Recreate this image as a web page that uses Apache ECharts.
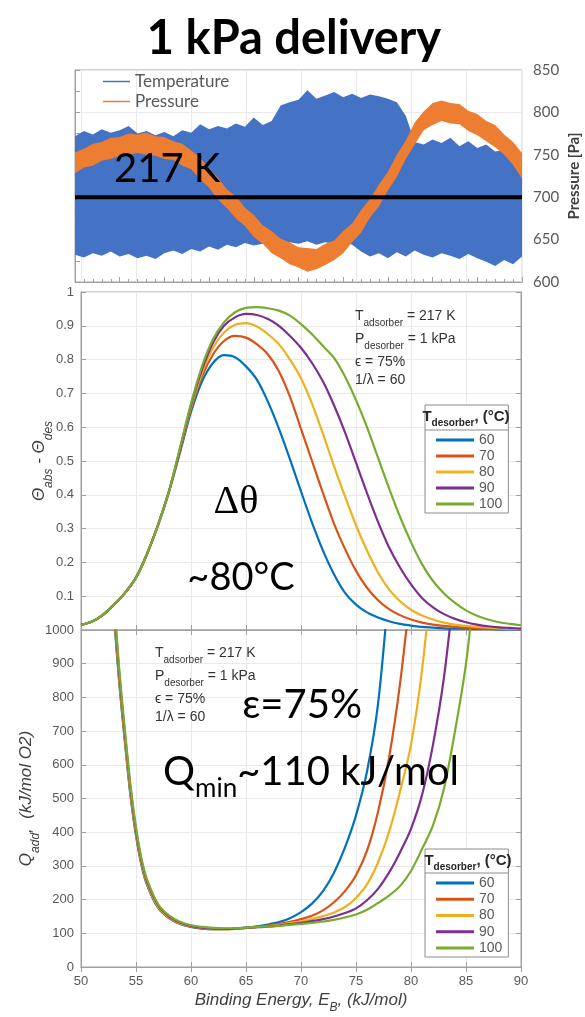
<!DOCTYPE html>
<html>
<head>
<meta charset="utf-8">
<script src="https://cdn.jsdelivr.net/npm/echarts/dist/echarts.min.js"></script>
<style>
  html, body { margin: 0; padding: 0; background: #fff; }
  #chart { width: 585px; height: 1017px; }
</style>
</head>
<body>
<div id="chart"></div>
<script>
// ---------- data ----------
const figureTitle = '1 kPa delivery';
const adsorberLabel = '217 K';
const setPointPa = 700;

// Top panel: time base (arbitrary units) with envelopes of the noisy traces, in Pa
const timeGrid = [0,2,4,6,8,10,12,14,16,18,20,22,24,26,28,30,32,34,36,38,40,42,44,46,48,50,
  52,54,56,58,60,62,64,66,68,70,72,74,76,78,80,82,84,86,88,90,92,94,96,98,100];
const temperatureUpper = [772,778,774,780,776,779,784,775,778,773,777,772,779,776,786,780,784,781,787,783,
  794,785,790,808,812,815,826,816,820,824,818,822,817,821,819,816,812,796,765,762,768,764,770,760,766,758,762,754,756,748,752];
const temperatureLower = [632,629,634,631,636,630,633,628,631,627,634,637,633,639,636,642,638,644,641,646,
  643,645,648,644,647,645,648,644,647,645,648,644,636,630,634,628,635,630,637,632,629,634,631,627,633,628,624,619,626,621,630];
const pressureUpper = [753,757,763,765,770,771,775,774,776,772,771,766,763,755,747,733,723,709,701,688,
  679,667,660,651,647,641,640,639,645,649,660,669,685,698,715,730,750,767,788,801,811,814,811,810,802,798,790,785,774,765,752];
const pressureLower = [728,735,737,743,745,749,750,752,750,749,745,744,737,733,721,711,697,687,675,666,
  653,645,634,628,621,617,612,615,620,626,634,647,658,676,689,708,724,745,762,779,785,790,787,786,778,773,766,759,750,738,722];

// Middle panel: delta theta vs binding energy, one series per desorber temperature
const desorberTemps = ['60', '70', '80', '90', '100'];
const energyGrid = [50,51,52,53,54,55,56,57,58,59,60,61,62,63,64,65,66,67,68,69,70,
  71,72,73,74,75,76,77,78,79,80,81,82,83,84,85,86,87,88,89,90];
const dTheta60 = [.015,.025,.045,.075,.11,.155,.225,.31,.41,.525,.645,.735,.79,.813,.807,.78,.74,.675,.595,.505,.41,
  .318,.235,.165,.11,.075,.052,.037,.026,.018,.013,.009,.007,.005,.004,.004,.003,.003,.002,.002,.002];
const dTheta70 = [.015,.025,.045,.075,.11,.155,.225,.31,.41,.53,.655,.75,.815,.855,.87,.865,.845,.815,.765,.69,.595,
  .5,.405,.315,.24,.175,.125,.088,.062,.044,.031,.022,.016,.012,.009,.007,.005,.004,.003,.003,.002];
const dTheta80 = [.015,.025,.045,.075,.11,.155,.225,.31,.41,.535,.66,.76,.835,.88,.903,.908,.898,.875,.845,.80,.745,
  .67,.58,.485,.395,.31,.235,.17,.12,.085,.06,.043,.031,.022,.016,.012,.009,.007,.005,.004,.003];
const dTheta90 = [.015,.025,.045,.075,.11,.155,.225,.31,.41,.535,.665,.77,.85,.90,.925,.935,.932,.92,.90,.87,.835,
  .79,.735,.665,.585,.495,.405,.32,.245,.185,.135,.095,.067,.047,.033,.023,.016,.011,.008,.006,.004];
const dTheta100 = [.015,.025,.045,.075,.11,.155,.225,.31,.41,.54,.67,.78,.86,.91,.94,.953,.955,.952,.945,.93,.905,
  .875,.84,.805,.75,.68,.60,.51,.42,.335,.26,.195,.145,.108,.08,.058,.042,.031,.023,.018,.014];

// Bottom panel: heat added per mol O2 vs binding energy
const qEnergy = [53,53.5,54,54.5,55,55.5,56,57,58,59,60,61,62,63,64,65,66,67,68,69,70,71,72,73,74,75,76,77,78,79,80,81,82,83,84,85,86];
const qAdd60 = [1040,835,665,508,390,302,244,176,145,128,119,114,112,112,114,117,121,126,133,145,163,188,225,280,355,450,580,780,1130,
  null,null,null,null,null,null,null,null];
const qAdd70 = [1050,842,672,514,395,306,247,178,146,129,120,115,112,112,113,116,119,123,128,134,142,152,168,192,225,272,345,460,620,840,1130,
  null,null,null,null,null,null];
const qAdd80 = [1060,850,680,520,400,310,250,180,148,130,121,116,113,112,113,116,118,121,125,130,135,142,151,162,178,205,245,310,400,520,660,880,1200,
  null,null,null,null];
const qAdd90 = [1075,862,690,530,407,316,255,184,150,132,122,117,114,113,114,116,118,120,123,127,131,136,142,150,160,174,198,232,280,340,410,510,660,860,1150,
  null,null];
const qAdd100 = [1090,875,700,540,415,322,260,187,153,134,124,119,116,115,115,117,119,120,122,125,128,131,135,140,147,156,170,190,212,240,285,350,420,530,700,900,1200];

// ---------- styling ----------
const curveColors = ['#0072BD', '#D95319', '#EDB120', '#7E2F8E', '#77AC30'];
const tempColor = '#4472C4';
const pressColor = '#ED7D31';
const frameColor = '#a0a0a0';
const gridColor = '#e9e9e9';
const labelColor = '#595959';
const sans = '"Liberation Sans", "DejaVu Sans", sans-serif';
const calibriLike = 'Lato, "Noto Sans", "DejaVu Sans", sans-serif';

const chart = echarts.init(document.getElementById('chart'));

function band(upper, lower, color) {
  return function (params, api) {
    const pts = [];
    for (let i = 0; i < timeGrid.length; i++) pts.push(api.coord([timeGrid[i], upper[i]]));
    for (let i = timeGrid.length - 1; i >= 0; i--) pts.push(api.coord([timeGrid[i], lower[i]]));
    return { type: 'polygon', shape: { points: pts }, style: { fill: color } };
  };
}

function pairs(xs, ys) { return xs.map((x, i) => [x, ys[i]]); }

const thetaSets = [dTheta60, dTheta70, dTheta80, dTheta90, dTheta100];
const qSets = [qAdd60, qAdd70, qAdd80, qAdd90, qAdd100];

const inTick = { show: true, inside: true, length: 5, lineStyle: { color: frameColor } };
const frameLine = { show: true, lineStyle: { color: frameColor, width: 1 } };
const tickLabel = { color: labelColor, fontFamily: sans, fontSize: 13 };

function energyAxis(gridIndex, position, withLabels) {
  return {
    gridIndex, type: 'value', min: 50, max: 90, interval: 5, position,
    axisLine: frameLine, axisTick: inTick,
    axisLabel: withLabels ? Object.assign({ margin: 8 }, tickLabel) : { show: false },
    splitLine: { show: position === 'bottom', lineStyle: { color: gridColor } }
  };
}

const subRich = (size, sub, color, extra) => ({
  m: Object.assign({ fontSize: size, lineHeight: size + 4, verticalAlign: 'top', color: color, fontFamily: sans }, extra || {}),
  s: Object.assign({ fontSize: Math.round(size * 0.7), lineHeight: Math.round(size * 0.7),
    padding: [sub, 0, 0, 0], verticalAlign: 'top', color: color, fontFamily: sans }, extra || {})
});

const lineSeries = (data, i, xi, yi) => ({
  name: desorberTemps[i], type: 'line', xAxisIndex: xi, yAxisIndex: yi,
  data, smooth: 0.3, showSymbol: false, symbol: 'none',
  lineStyle: { color: curveColors[i], width: 2.2 }, itemStyle: { color: curveColors[i] },
  clip: true, silent: true, z: 3 + i
});

function legendFor(top, padTop, gap) {
  return {
    data: desorberTemps.map((n, i) => ({ name: n, itemStyle: { color: curveColors[i] } })),
    orient: 'vertical', left: 425, top: top, padding: [padTop, 6, 2, 11],
    itemGap: gap, itemWidth: 38, itemHeight: 3, icon: 'rect', selectedMode: false,
    textStyle: { fontSize: 14, lineHeight: 14, color: labelColor, fontFamily: sans },
    borderColor: '#8c8c8c', borderWidth: 1, backgroundColor: '#fff', z: 10
  };
}

// Parameter block: four lines of annotation text
function paramBlock(x, y) {
  const rich = {
    m: { fontSize: 14, lineHeight: 17, verticalAlign: 'top', fill: '#333', fontFamily: sans },
    s: { fontSize: 10, lineHeight: 10, padding: [9, 0, 0, 0], verticalAlign: 'top', fill: '#333', fontFamily: sans }
  };
  const lines = [
    ['{m|T}{s|adsorber}{m| = 217 K}', 0],
    ['{m|P}{s|desorber}{m| = 1 kPa}', 23],
    ['{m|ϵ = 75%}', 46],
    ['{m|1/λ = 60}', 64]
  ];
  return lines.map(([t, dy]) => ({
    type: 'text', x: x, y: y + dy, z: 50,
    style: { text: t, rich: rich, fontSize: 14, fontFamily: sans, fill: '#333', textVerticalAlign: 'top' }
  }));
}

function legendHeader(cx, cy, lineY) {
  const rich = {
    m: { fontSize: 15, lineHeight: 17, verticalAlign: 'top', fill: '#262626', fontWeight: 'bold', fontFamily: sans },
    s: { fontSize: 10, lineHeight: 10, padding: [9, 0, 0, 0], verticalAlign: 'top', fill: '#262626', fontWeight: 'bold', fontFamily: sans }
  };
  return [
    { type: 'text', x: cx, y: cy, z: 60,
      style: { text: '{m|T}{s|desorber}{m|, (°C)}', rich: rich, fontSize: 15, fontWeight: 'bold',
        fontFamily: sans, textAlign: 'center', textVerticalAlign: 'middle' } },
    { type: 'line', z: 60, shape: { x1: 425, y1: lineY, x2: 508, y2: lineY },
      style: { stroke: '#8c8c8c', lineWidth: 1 } }
  ];
}

const gridBase = { show: true, borderColor: frameColor, borderWidth: 1, backgroundColor: '#fff', outerBoundsMode: 'none' };

const option = {
  animation: false,
  backgroundColor: '#fff',
  grid: [
    Object.assign({ left: 75, top: 70, width: 447, height: 212 }, gridBase),
    Object.assign({ left: 81, top: 292, width: 440, height: 338 }, gridBase),
    Object.assign({ left: 81, top: 630, width: 440, height: 337 }, gridBase)
  ],
  xAxis: [
    { gridIndex: 0, type: 'value', min: 0, max: 100, interval: 10,
      axisLine: frameLine, axisTick: inTick,
      minorTick: { show: true, splitNumber: 5, length: 3, lineStyle: { color: frameColor } },
      axisLabel: { show: false }, splitLine: { show: false } },
    // column guides of the top panel, aligned with the binding-energy columns below
    { gridIndex: 0, type: 'value', min: 49.45, max: 90.09, splitNumber: 8, position: 'top',
      axisLine: { show: false }, axisTick: { show: false }, axisLabel: { show: false },
      splitLine: { show: true, lineStyle: { color: gridColor } } },
    energyAxis(1, 'bottom', false),
    energyAxis(1, 'top', false),
    Object.assign(energyAxis(2, 'bottom', true), {
      name: '{t|Binding Energy, E}{s|B}{t|, (kJ/mol)}', nameLocation: 'middle', nameGap: 25, nameMoveOverlap: false,
      nameTextStyle: { rich: {
        t: { fontSize: 17, lineHeight: 20, verticalAlign: 'top', fontStyle: 'italic', color: '#404040', fontFamily: sans },
        s: { fontSize: 12, lineHeight: 12, padding: [10, 0, 0, 0], verticalAlign: 'top', fontStyle: 'italic', color: '#404040', fontFamily: sans }
      } }
    }),
    energyAxis(2, 'top', false)
  ],
  yAxis: [
    { gridIndex: 0, type: 'value', position: 'right', min: 600, max: 850, interval: 50,
      axisLine: frameLine, axisTick: { show: false },
      axisLabel: { color: labelColor, fontFamily: calibriLike, fontSize: 15, margin: 11 },
      splitLine: { show: true, lineStyle: { color: gridColor } },
      name: 'Pressure [Pa]', nameLocation: 'middle', nameRotate: 90, nameGap: 45, nameMoveOverlap: false,
      nameTextStyle: { color: '#404040', fontFamily: calibriLike, fontWeight: 'bold', fontSize: 15 } },
    { gridIndex: 0, type: 'value', position: 'left', min: 600, max: 850, interval: 25,
      axisLine: frameLine, axisTick: inTick, axisLabel: { show: false }, splitLine: { show: false } },
    { gridIndex: 1, type: 'value', position: 'left', min: 0, max: 1, interval: 0.1,
      axisLine: frameLine, axisTick: inTick,
      axisLabel: Object.assign({ margin: 7, formatter: v => v === 0 ? '' : (v === 1 ? '1' : v.toFixed(1)) }, tickLabel),
      splitLine: { show: true, lineStyle: { color: gridColor } },
      name: '{m|Θ}{s|abs}{m| - Θ}{s|des}', nameLocation: 'middle', nameRotate: 90, nameGap: 29, nameMoveOverlap: false,
      nameTextStyle: { rich: subRich(17, 12, '#404040', { fontStyle: 'italic' }) } },
    { gridIndex: 1, type: 'value', position: 'right', min: 0, max: 1, interval: 0.1,
      axisLine: frameLine, axisTick: inTick, axisLabel: { show: false }, splitLine: { show: false } },
    { gridIndex: 2, type: 'value', position: 'left', min: 0, max: 1000, interval: 100,
      axisLine: frameLine, axisTick: inTick,
      axisLabel: Object.assign({ margin: 7, formatter: v => String(v) }, tickLabel),
      splitLine: { show: true, lineStyle: { color: gridColor } },
      name: '{m|Q}{s|add}{m|,  (kJ/mol O2)}', nameLocation: 'middle', nameRotate: 90, nameGap: 42, nameMoveOverlap: false,
      nameTextStyle: { rich: subRich(17, 12, '#404040', { fontStyle: 'italic' }) } },
    { gridIndex: 2, type: 'value', position: 'right', min: 0, max: 1000, interval: 100,
      axisLine: frameLine, axisTick: inTick, axisLabel: { show: false }, splitLine: { show: false } }
  ],
  legend: [
    { data: [{ name: 'Temperature', itemStyle: { color: tempColor } }, { name: 'Pressure', itemStyle: { color: pressColor } }],
      orient: 'vertical', left: 98, top: 73, padding: [0, 0, 0, 5], itemGap: 3, itemWidth: 27, itemHeight: 1.5,
      icon: 'rect', selectedMode: false,
      textStyle: { fontSize: 17, lineHeight: 17, color: labelColor, fontFamily: calibriLike } },
    legendFor(405, 28, 2),
    legendFor(849, 27, 2.25)
  ],
  series: [
    { name: 'Temperature', type: 'custom', xAxisIndex: 0, yAxisIndex: 0, data: [[timeGrid[0], temperatureUpper[0]]],
      renderItem: band(temperatureUpper, temperatureLower, tempColor), clip: true, silent: true, z: 1,
      itemStyle: { color: tempColor } },
    { name: 'Pressure', type: 'custom', xAxisIndex: 0, yAxisIndex: 0, data: [[timeGrid[0], pressureUpper[0]]],
      renderItem: band(pressureUpper, pressureLower, pressColor), clip: true, silent: true, z: 2,
      itemStyle: { color: pressColor } },
    { name: 'set point', type: 'line', xAxisIndex: 0, yAxisIndex: 0,
      data: [[timeGrid[0], setPointPa], [timeGrid[timeGrid.length - 1], setPointPa]],
      symbol: 'none', lineStyle: { color: '#000', width: 4 }, silent: true, z: 5 },
    ...thetaSets.map((arr, i) => lineSeries(pairs(energyGrid, arr), i, 2, 2)),
    ...qSets.map((arr, i) => lineSeries(pairs(qEnergy, arr), i, 4, 4))
  ],
  graphic: [
    { type: 'text', x: 294, y: 39, z: 50,
      style: { text: figureTitle, fontSize: 47, fontWeight: 'bold', fontFamily: calibriLike, fill: '#000',
        textAlign: 'center', textVerticalAlign: 'middle' } },
    { type: 'text', x: 114, y: 169, z: 50,
      style: { text: adsorberLabel, fontSize: 40, fontFamily: calibriLike, fill: '#000', textVerticalAlign: 'middle' } },
    { type: 'text', x: 236, y: 502, z: 50,
      style: { text: 'Δθ', fontSize: 40, fontFamily: '"Liberation Serif", "DejaVu Serif", serif', fill: '#000',
        textAlign: 'center', textVerticalAlign: 'middle' } },
    { type: 'text', x: 241, y: 578, z: 50,
      style: { text: '~80°C', fontSize: 38, fontFamily: calibriLike, fill: '#000',
        textAlign: 'center', textVerticalAlign: 'middle' } },
    { type: 'text', x: 362, y: 705, z: 50,
      style: { text: 'ε=75%', fontSize: 40, fontFamily: calibriLike, fill: '#000',
        textAlign: 'right', textVerticalAlign: 'middle' } },
    { type: 'text', x: 163, y: 774, z: 50,
      style: { text: '{q|Q}{m|min}{q|~110 kJ/mol}', fontSize: 40, fontFamily: calibriLike, textVerticalAlign: 'middle',
        rich: {
          q: { fontSize: 40, lineHeight: 44, verticalAlign: 'top', fill: '#000', fontFamily: calibriLike },
          m: { fontSize: 26, lineHeight: 26, padding: [24, 0, 0, 0], verticalAlign: 'top', fill: '#000', fontFamily: calibriLike }
        } } },
    ...paramBlock(355, 309),
    ...paramBlock(155, 646),
    ...legendHeader(466, 418, 430),
    ...legendHeader(468, 862, 873)
  ]
};

chart.setOption(option);
</script>
</body>
</html>
